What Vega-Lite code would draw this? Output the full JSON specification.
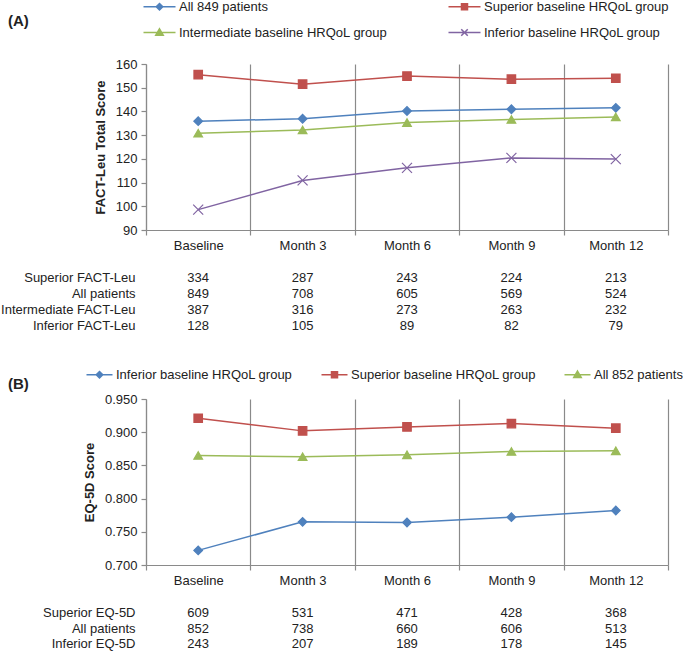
{
  "$schema": "https://vega.github.io/schema/vega-lite/v6.json",
  "padding": {"left": 0, "top": 0, "right": 5, "bottom": 0},
  "config": {
    "view": {"stroke": null},
    "font": "Liberation Sans",
    "axis": {"labelFont": "Liberation Sans", "titleFont": "Liberation Sans", "labelColor": "#222", "titleColor": "#222"},
    "legend": {"labelFont": "Liberation Sans", "labelLimit": 400},
    "title": {"font": "Liberation Sans", "color": "#222"}
  },
  "resolve": {"scale": {"x": "independent", "y": "independent", "color": "independent"}, "legend": {"color": "independent"}},
  "spacing": 34,
  "vconcat": [
    {
      "spacing": 18,
      "resolve": {"scale": {"x": "independent", "y": "independent"}},
      "vconcat": [
        {
          "width": 522,
          "height": 166,
          "title": {"text": "(A)", "anchor": "start", "frame": "group", "fontSize": 15, "fontWeight": "bold", "offset": 29, "dx": -138},
          "data": {"values": [
            {"time": "Baseline", "series": "All 849 patients", "score": 135.9},
            {"time": "Month 3", "series": "All 849 patients", "score": 136.9},
            {"time": "Month 6", "series": "All 849 patients", "score": 140.2},
            {"time": "Month 9", "series": "All 849 patients", "score": 140.9},
            {"time": "Month 12", "series": "All 849 patients", "score": 141.5},
            {"time": "Baseline", "series": "Superior baseline HRQoL group", "score": 155.5},
            {"time": "Month 3", "series": "Superior baseline HRQoL group", "score": 151.5},
            {"time": "Month 6", "series": "Superior baseline HRQoL group", "score": 154.9},
            {"time": "Month 9", "series": "Superior baseline HRQoL group", "score": 153.6},
            {"time": "Month 12", "series": "Superior baseline HRQoL group", "score": 154.0},
            {"time": "Baseline", "series": "Intermediate baseline HRQoL group", "score": 130.8},
            {"time": "Month 3", "series": "Intermediate baseline HRQoL group", "score": 132.2},
            {"time": "Month 6", "series": "Intermediate baseline HRQoL group", "score": 135.3},
            {"time": "Month 9", "series": "Intermediate baseline HRQoL group", "score": 136.6},
            {"time": "Month 12", "series": "Intermediate baseline HRQoL group", "score": 137.7},
            {"time": "Baseline", "series": "Inferior baseline HRQoL group", "score": 98.6},
            {"time": "Month 3", "series": "Inferior baseline HRQoL group", "score": 110.9},
            {"time": "Month 6", "series": "Inferior baseline HRQoL group", "score": 116.2},
            {"time": "Month 9", "series": "Inferior baseline HRQoL group", "score": 120.4},
            {"time": "Month 12", "series": "Inferior baseline HRQoL group", "score": 119.9}
          ]},
          "encoding": {
            "x": {"field": "time", "type": "ordinal", "sort": ["Baseline", "Month 3", "Month 6", "Month 9", "Month 12"],
              "scale": {"type": "band", "paddingInner": 0, "paddingOuter": 0},
              "axis": {"title": null, "labelAngle": 0, "tickBand": "extent", "grid": true, "gridColor": "#8a8a8a", "gridWidth": 1.2, "domainColor": "#8a8a8a", "domainWidth": 1.2, "tickColor": "#8a8a8a", "tickWidth": 1.2, "tickSize": 5, "labelPadding": 4, "labelFontSize": 13}},
            "y": {"field": "score", "type": "quantitative",
              "scale": {"domain": [90, 160], "nice": false, "zero": false},
              "axis": {"title": "FACT-Leu Total Score", "titleFontSize": 13, "titleFontWeight": "bold", "titlePadding": 8, "values": [90, 100, 110, 120, 130, 140, 150, 160], "grid": false, "tickSize": 5, "labelPadding": 4, "labelFontSize": 13, "domainColor": "#8a8a8a", "domainWidth": 1.2, "tickColor": "#8a8a8a", "tickWidth": 1.2}}
          },
          "layer": [
            {"mark": {"type": "line", "strokeWidth": 1.5},
             "encoding": {
               "color": {"field": "series", "type": "nominal",
                 "scale": {"domain": ["All 849 patients", "Superior baseline HRQoL group", "Intermediate baseline HRQoL group", "Inferior baseline HRQoL group"], "range": ["#4F81BD", "#C0504D", "#9BBB59", "#8064A2"]},
                 "legend": {"orient": "none", "legendX": -3, "legendY": -64, "direction": "horizontal", "columns": 2, "gridAlign": "all", "title": null, "labelFontSize": 13, "labelColor": "#222", "labelOffset": 23, "columnPadding": 57, "rowPadding": 11, "symbolSize": 100, "symbolStrokeWidth": 1.5,
                   "symbolType": {"expr": "['M-1.2,0H5.2M2,-0.65L2.65,0L2,0.65L1.35,0Z','M-1.2,0H5.2M1.4,-0.6H2.6V0.6H1.4Z','M-1.2,0H5.2M2,-0.75L2.75,0.55H1.25Z','M-1.2,0H5.2M1.35,-0.65L2.65,0.65M1.35,0.65L2.65,-0.65'][datum.index]"},
                   "symbolFillColor": {"expr": "['#4F81BD','#C0504D','#9BBB59','#8064A2'][datum.index]"}}}
             }},
            {"transform": [{"filter": "datum.series === 'All 849 patients'"}],
             "mark": {"type": "point", "shape": "diamond", "filled": true, "opacity": 1, "size": 75, "color": "#4F81BD", "stroke": "#4F81BD", "strokeWidth": 1.2}},
            {"transform": [{"filter": "datum.series === 'Superior baseline HRQoL group'"}],
             "mark": {"type": "point", "shape": "square", "filled": true, "opacity": 1, "size": 72, "color": "#C0504D", "stroke": "#C0504D", "strokeWidth": 1.2}},
            {"transform": [{"filter": "datum.series === 'Intermediate baseline HRQoL group'"}],
             "mark": {"type": "point", "shape": "triangle-up", "filled": true, "opacity": 1, "size": 75, "color": "#9BBB59", "stroke": "#9BBB59", "strokeWidth": 1.2}},
            {"transform": [{"filter": "datum.series === 'Inferior baseline HRQoL group'"}],
             "mark": {"type": "point", "shape": "M-1,-1L1,1M-1,1L1,-1", "filled": false, "opacity": 1, "size": 100, "color": "#8064A2", "strokeWidth": 1.2}}
          ]
        },
        {
          "width": 522,
          "height": 64,
          "data": {"values": [
            {"time": "Baseline", "group": "Superior FACT-Leu", "n": 334},
            {"time": "Month 3", "group": "Superior FACT-Leu", "n": 287},
            {"time": "Month 6", "group": "Superior FACT-Leu", "n": 243},
            {"time": "Month 9", "group": "Superior FACT-Leu", "n": 224},
            {"time": "Month 12", "group": "Superior FACT-Leu", "n": 213},
            {"time": "Baseline", "group": "All patients", "n": 849},
            {"time": "Month 3", "group": "All patients", "n": 708},
            {"time": "Month 6", "group": "All patients", "n": 605},
            {"time": "Month 9", "group": "All patients", "n": 569},
            {"time": "Month 12", "group": "All patients", "n": 524},
            {"time": "Baseline", "group": "Intermediate FACT-Leu", "n": 387},
            {"time": "Month 3", "group": "Intermediate FACT-Leu", "n": 316},
            {"time": "Month 6", "group": "Intermediate FACT-Leu", "n": 273},
            {"time": "Month 9", "group": "Intermediate FACT-Leu", "n": 263},
            {"time": "Month 12", "group": "Intermediate FACT-Leu", "n": 232},
            {"time": "Baseline", "group": "Inferior FACT-Leu", "n": 128},
            {"time": "Month 3", "group": "Inferior FACT-Leu", "n": 105},
            {"time": "Month 6", "group": "Inferior FACT-Leu", "n": 89},
            {"time": "Month 9", "group": "Inferior FACT-Leu", "n": 82},
            {"time": "Month 12", "group": "Inferior FACT-Leu", "n": 79}
          ]},
          "mark": {"type": "text", "fontSize": 13, "color": "#222"},
          "encoding": {
            "x": {"field": "time", "type": "ordinal", "sort": ["Baseline", "Month 3", "Month 6", "Month 9", "Month 12"], "scale": {"type": "band", "paddingInner": 0, "paddingOuter": 0}, "axis": null},
            "y": {"field": "group", "type": "ordinal", "sort": ["Superior FACT-Leu", "All patients", "Intermediate FACT-Leu", "Inferior FACT-Leu"], "scale": {"type": "band", "paddingInner": 0, "paddingOuter": 0},
              "axis": {"title": null, "ticks": false, "domain": false, "labelPadding": 11, "labelFontSize": 13}},
            "text": {"field": "n", "type": "quantitative"}
          }
        }
      ]
    },
    {
      "spacing": 18,
      "resolve": {"scale": {"x": "independent", "y": "independent"}},
      "vconcat": [
        {
          "width": 522,
          "height": 166,
          "title": {"text": "(B)", "anchor": "start", "frame": "group", "fontSize": 15, "fontWeight": "bold", "offset": 1, "dx": -138},
          "data": {"values": [
            {"time": "Baseline", "series": "Inferior baseline HRQoL group", "score": 0.722},
            {"time": "Month 3", "series": "Inferior baseline HRQoL group", "score": 0.765},
            {"time": "Month 6", "series": "Inferior baseline HRQoL group", "score": 0.764},
            {"time": "Month 9", "series": "Inferior baseline HRQoL group", "score": 0.772},
            {"time": "Month 12", "series": "Inferior baseline HRQoL group", "score": 0.782},
            {"time": "Baseline", "series": "Superior baseline HRQoL group", "score": 0.921},
            {"time": "Month 3", "series": "Superior baseline HRQoL group", "score": 0.902},
            {"time": "Month 6", "series": "Superior baseline HRQoL group", "score": 0.908},
            {"time": "Month 9", "series": "Superior baseline HRQoL group", "score": 0.913},
            {"time": "Month 12", "series": "Superior baseline HRQoL group", "score": 0.906},
            {"time": "Baseline", "series": "All 852 patients", "score": 0.865},
            {"time": "Month 3", "series": "All 852 patients", "score": 0.863},
            {"time": "Month 6", "series": "All 852 patients", "score": 0.866},
            {"time": "Month 9", "series": "All 852 patients", "score": 0.871},
            {"time": "Month 12", "series": "All 852 patients", "score": 0.872}
          ]},
          "encoding": {
            "x": {"field": "time", "type": "ordinal", "sort": ["Baseline", "Month 3", "Month 6", "Month 9", "Month 12"],
              "scale": {"type": "band", "paddingInner": 0, "paddingOuter": 0},
              "axis": {"title": null, "labelAngle": 0, "tickBand": "extent", "grid": true, "gridColor": "#8a8a8a", "gridWidth": 1.2, "domainColor": "#8a8a8a", "domainWidth": 1.2, "tickColor": "#8a8a8a", "tickWidth": 1.2, "tickSize": 5, "labelPadding": 4, "labelFontSize": 13}},
            "y": {"field": "score", "type": "quantitative",
              "scale": {"domain": [0.7, 0.95], "nice": false, "zero": false},
              "axis": {"title": "EQ-5D Score", "titleFontSize": 13, "titleFontWeight": "bold", "titlePadding": 8, "values": [0.7, 0.75, 0.8, 0.85, 0.9, 0.95], "format": ".3f", "grid": false, "tickSize": 5, "labelPadding": 4, "labelFontSize": 13, "domainColor": "#8a8a8a", "domainWidth": 1.2, "tickColor": "#8a8a8a", "tickWidth": 1.2}}
          },
          "layer": [
            {"mark": {"type": "line", "strokeWidth": 1.5},
             "encoding": {
               "color": {"field": "series", "type": "nominal",
                 "scale": {"domain": ["Inferior baseline HRQoL group", "Superior baseline HRQoL group", "All 852 patients"], "range": ["#4F81BD", "#C0504D", "#9BBB59"]},
                 "legend": {"orient": "none", "legendX": -60, "legendY": -31, "direction": "horizontal", "columns": 3, "title": null, "labelFontSize": 13, "labelColor": "#222", "labelOffset": 17, "columnPadding": 25, "symbolSize": 100, "symbolStrokeWidth": 1.5,
                   "symbolType": {"expr": "['M-1.2,0H4M1.4,-0.65L2.05,0L1.4,0.65L0.75,0Z','M-1.2,0H4M0.8,-0.6H2V0.6H0.8Z','M-1.2,0H4M1.4,-0.75L2.15,0.55H0.65Z'][datum.index]"},
                   "symbolFillColor": {"expr": "['#4F81BD','#C0504D','#9BBB59'][datum.index]"}}}
             }},
            {"transform": [{"filter": "datum.series === 'Inferior baseline HRQoL group'"}],
             "mark": {"type": "point", "shape": "diamond", "filled": true, "opacity": 1, "size": 75, "color": "#4F81BD", "stroke": "#4F81BD", "strokeWidth": 1.2}},
            {"transform": [{"filter": "datum.series === 'Superior baseline HRQoL group'"}],
             "mark": {"type": "point", "shape": "square", "filled": true, "opacity": 1, "size": 72, "color": "#C0504D", "stroke": "#C0504D", "strokeWidth": 1.2}},
            {"transform": [{"filter": "datum.series === 'All 852 patients'"}],
             "mark": {"type": "point", "shape": "triangle-up", "filled": true, "opacity": 1, "size": 75, "color": "#9BBB59", "stroke": "#9BBB59", "strokeWidth": 1.2}}
          ]
        },
        {
          "width": 522,
          "height": 47,
          "data": {"values": [
            {"time": "Baseline", "group": "Superior EQ-5D", "n": 609},
            {"time": "Month 3", "group": "Superior EQ-5D", "n": 531},
            {"time": "Month 6", "group": "Superior EQ-5D", "n": 471},
            {"time": "Month 9", "group": "Superior EQ-5D", "n": 428},
            {"time": "Month 12", "group": "Superior EQ-5D", "n": 368},
            {"time": "Baseline", "group": "All patients", "n": 852},
            {"time": "Month 3", "group": "All patients", "n": 738},
            {"time": "Month 6", "group": "All patients", "n": 660},
            {"time": "Month 9", "group": "All patients", "n": 606},
            {"time": "Month 12", "group": "All patients", "n": 513},
            {"time": "Baseline", "group": "Inferior EQ-5D", "n": 243},
            {"time": "Month 3", "group": "Inferior EQ-5D", "n": 207},
            {"time": "Month 6", "group": "Inferior EQ-5D", "n": 189},
            {"time": "Month 9", "group": "Inferior EQ-5D", "n": 178},
            {"time": "Month 12", "group": "Inferior EQ-5D", "n": 145}
          ]},
          "mark": {"type": "text", "fontSize": 13, "color": "#222"},
          "encoding": {
            "x": {"field": "time", "type": "ordinal", "sort": ["Baseline", "Month 3", "Month 6", "Month 9", "Month 12"], "scale": {"type": "band", "paddingInner": 0, "paddingOuter": 0}, "axis": null},
            "y": {"field": "group", "type": "ordinal", "sort": ["Superior EQ-5D", "All patients", "Inferior EQ-5D"], "scale": {"type": "band", "paddingInner": 0, "paddingOuter": 0},
              "axis": {"title": null, "ticks": false, "domain": false, "labelPadding": 11, "labelFontSize": 13}},
            "text": {"field": "n", "type": "quantitative"}
          }
        }
      ]
    }
  ]
}
